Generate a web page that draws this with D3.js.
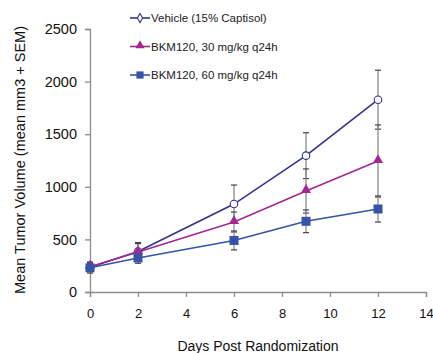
<!DOCTYPE html>
<html>
<head>
<meta charset="utf-8">
<script src="https://cdn.jsdelivr.net/npm/d3@7"></script>
<style>
body { margin: 0; background: #fff; }
text { font-family: "Liberation Sans", Arial, sans-serif; }
</style>
</head>
<body>
<div class="svg-container"></div>
<script>
// chart data
var days = [0, 2, 6, 9, 12];
var seriesNames = ["Vehicle (15% Captisol)", "BKM120, 30 mg/kg q24h", "BKM120, 60 mg/kg q24h"];
var vehicle = [235, 385, 836, 1296, 1828];
var vehicleSem = [40, 85, 181, 218, 280];
var bkm30 = [240, 380, 665, 960, 1245];
var bkm30Sem = [45, 80, 95, 210, 343];
var bkm60 = [230, 323, 490, 672, 789];
var bkm60Sem = [50, 50, 90, 108, 124];
var xTicks = [0, 2, 4, 6, 8, 10, 12, 14];
var yTicks = [0, 500, 1000, 1500, 2000, 2500];

var colors = ["#32338a", "#a3278f", "#3553a8"];
var markers = ["circle", "triangle", "square"];

var svg1 = d3.select("body").select(".svg-container").append("svg")
    .attr("width", 433)
    .attr("height", 353);

var x = d3.scaleLinear().domain([0, 14]).range([90, 426]);
var y = d3.scaleLinear().domain([0, 2500]).range([292, 29]);

// axes
var xAxis = svg1.append("g")
    .attr("transform", "translate(0,292)")
    .call(d3.axisBottom(x).tickValues(xTicks).tickFormat(d3.format("d")).tickSize(5).tickPadding(12));
var yAxis = svg1.append("g")
    .attr("transform", "translate(90,0)")
    .call(d3.axisLeft(y).tickValues(yTicks).tickFormat(d3.format("d")).tickSize(5).tickPadding(8));
[xAxis, yAxis].forEach(function(a) {
    a.select(".domain").attr("stroke", "#8c8c8c").attr("stroke-width", 1.3);
    a.selectAll(".tick line").attr("stroke", "#8c8c8c").attr("stroke-width", 1.3);
    a.selectAll(".tick text").attr("fill", "#111")
        .style("font-family", "Liberation Sans, Arial, sans-serif");
});
yAxis.selectAll(".tick text").attr("font-size", "14.5px");
xAxis.selectAll(".tick text").attr("font-size", "13px");

svg1.append("text")
    .attr("x", 258).attr("y", 351)
    .attr("text-anchor", "middle")
    .attr("font-size", "14px")
    .attr("fill", "#111")
    .text("Days Post Randomization");

svg1.append("text")
    .attr("transform", "translate(25,160) rotate(-90)")
    .attr("text-anchor", "middle")
    .attr("font-size", "14.5px")
    .attr("fill", "#111")
    .text("Mean Tumor Volume (mean mm3 + SEM)");

var allSeries = [
    { vals: vehicle, sem: vehicleSem },
    { vals: bkm30, sem: bkm30Sem },
    { vals: bkm60, sem: bkm60Sem }
];

// error bars first (gray stem, dark caps)
allSeries.forEach(function(s) {
    var g = svg1.append("g");
    g.selectAll("line.stem").data(days).enter().append("line")
        .attr("x1", function(d) { return x(d); })
        .attr("x2", function(d) { return x(d); })
        .attr("y1", function(d, i) { return y(s.vals[i] + s.sem[i]); })
        .attr("y2", function(d, i) { return y(s.vals[i] - s.sem[i]); })
        .attr("stroke", "#8a8a8a").attr("stroke-width", 1.3);
    g.selectAll("line.capt").data(days).enter().append("line")
        .attr("x1", function(d) { return x(d) - 3; })
        .attr("x2", function(d) { return x(d) + 3; })
        .attr("y1", function(d, i) { return y(s.vals[i] + s.sem[i]); })
        .attr("y2", function(d, i) { return y(s.vals[i] + s.sem[i]); })
        .attr("stroke", "#444").attr("stroke-width", 1.2);
    g.selectAll("line.capb").data(days).enter().append("line")
        .attr("x1", function(d) { return x(d) - 3; })
        .attr("x2", function(d) { return x(d) + 3; })
        .attr("y1", function(d, i) { return y(s.vals[i] - s.sem[i]); })
        .attr("y2", function(d, i) { return y(s.vals[i] - s.sem[i]); })
        .attr("stroke", "#444").attr("stroke-width", 1.2);
});

var line = d3.line()
    .x(function(d) { return x(d[0]); })
    .y(function(d) { return y(d[1]); });

function drawMarker(g, type, cx, cy, color, size) {
    if (type == "circle") {
        g.append("circle").attr("cx", cx).attr("cy", cy).attr("r", size * 0.5)
            .attr("fill", "#fff").attr("stroke", color).attr("stroke-width", 1.1);
    } else if (type == "diamond") {
        g.append("path")
            .attr("d", d3.symbol().type(d3.symbolDiamond).size(size * 4)())
            .attr("transform", "translate(" + cx + "," + cy + ")")
            .attr("fill", "#fff").attr("stroke", color).attr("stroke-width", 1.1);
    } else if (type == "triangle") {
        g.append("path")
            .attr("d", d3.symbol().type(d3.symbolTriangle).size(size * 6)())
            .attr("transform", "translate(" + cx + "," + (cy - 1) + ")")
            .attr("fill", color);
    } else {
        g.append("rect").attr("x", cx - size * 0.6).attr("y", cy - size * 0.6)
            .attr("width", size * 1.2).attr("height", size * 1.2)
            .attr("fill", color);
    }
}

allSeries.forEach(function(s, k) {
    var pts = days.map(function(d, i) { return [d, s.vals[i]]; });
    svg1.append("path").datum(pts)
        .attr("d", line)
        .attr("fill", "none")
        .attr("stroke", colors[k])
        .attr("stroke-width", 1.6);
});
allSeries.forEach(function(s, k) {
    var g = svg1.append("g");
    days.forEach(function(d, i) {
        drawMarker(g, markers[k], x(d), y(s.vals[i]), colors[k], 7.5);
    });
});

// legend
var legendMarkers = ["diamond", "triangle", "square"];
seriesNames.forEach(function(name, k) {
    var ly = 18 + k * 28.5;
    var g = svg1.append("g");
    g.append("line").attr("x1", 130).attr("x2", 150).attr("y1", ly).attr("y2", ly)
        .attr("stroke", colors[k]).attr("stroke-width", 1.6);
    drawMarker(g, legendMarkers[k], 140, ly, colors[k], 6);
    g.append("text").attr("x", 151).attr("y", ly + 4)
        .attr("font-size", "11.5px").attr("fill", "#222")
        .text(name);
});
</script>
</body>
</html>
